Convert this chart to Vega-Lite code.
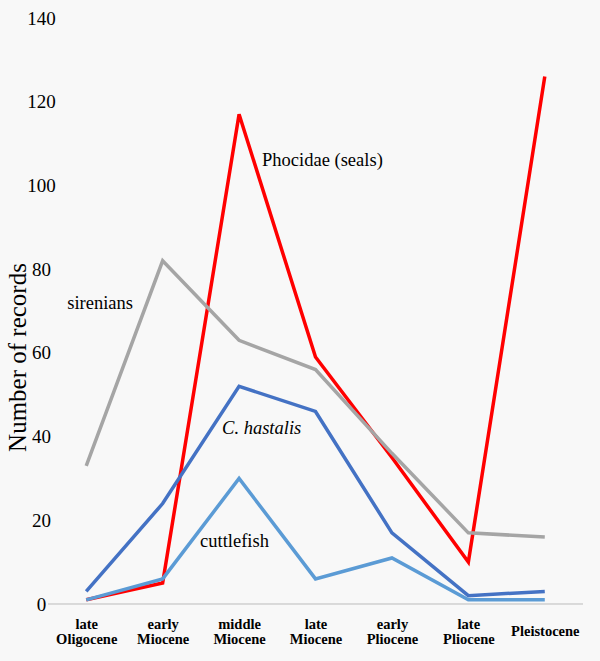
{
  "$schema": "https://vega.github.io/schema/vega-lite/v6.json",
  "width": 535,
  "height": 586,
  "autosize": {"type": "none"},
  "padding": {"left": 48, "top": 18, "right": 17, "bottom": 57},
  "background": "#f8f8f8",
  "config": {
    "view": {"stroke": null},
    "font": "'Liberation Serif', 'Times New Roman', serif"
  },
  "data": {
    "values": [
      {"period": "late Oligocene", "series": "Phocidae", "n": 1},
      {"period": "early Miocene", "series": "Phocidae", "n": 5},
      {"period": "middle Miocene", "series": "Phocidae", "n": 117},
      {"period": "late Miocene", "series": "Phocidae", "n": 59},
      {"period": "early Pliocene", "series": "Phocidae", "n": 35},
      {"period": "late Pliocene", "series": "Phocidae", "n": 10},
      {"period": "Pleistocene", "series": "Phocidae", "n": 126},
      {"period": "late Oligocene", "series": "C. hastalis", "n": 3},
      {"period": "early Miocene", "series": "C. hastalis", "n": 24},
      {"period": "middle Miocene", "series": "C. hastalis", "n": 52},
      {"period": "late Miocene", "series": "C. hastalis", "n": 46},
      {"period": "early Pliocene", "series": "C. hastalis", "n": 17},
      {"period": "late Pliocene", "series": "C. hastalis", "n": 2},
      {"period": "Pleistocene", "series": "C. hastalis", "n": 3},
      {"period": "late Oligocene", "series": "sirenians", "n": 33},
      {"period": "early Miocene", "series": "sirenians", "n": 82},
      {"period": "middle Miocene", "series": "sirenians", "n": 63},
      {"period": "late Miocene", "series": "sirenians", "n": 56},
      {"period": "early Pliocene", "series": "sirenians", "n": 36},
      {"period": "late Pliocene", "series": "sirenians", "n": 17},
      {"period": "Pleistocene", "series": "sirenians", "n": 16},
      {"period": "late Oligocene", "series": "cuttlefish", "n": 1},
      {"period": "early Miocene", "series": "cuttlefish", "n": 6},
      {"period": "middle Miocene", "series": "cuttlefish", "n": 30},
      {"period": "late Miocene", "series": "cuttlefish", "n": 6},
      {"period": "early Pliocene", "series": "cuttlefish", "n": 11},
      {"period": "late Pliocene", "series": "cuttlefish", "n": 1},
      {"period": "Pleistocene", "series": "cuttlefish", "n": 1}
    ]
  },
  "encoding": {
    "x": {
      "field": "period",
      "type": "ordinal",
      "sort": ["late Oligocene", "early Miocene", "middle Miocene", "late Miocene", "early Pliocene", "late Pliocene", "Pleistocene"],
      "scale": {"type": "point", "padding": 0.5},
      "axis": {
        "title": null,
        "labelAngle": 0,
        "labelExpr": "split(datum.label, ' ')",
        "labelFont": "'Liberation Serif', 'Times New Roman', serif",
        "labelFontWeight": "bold",
        "labelFontSize": 14.5,
        "labelLineHeight": 15,
        "labelBaseline": "middle",
        "labelPadding": {"condition": {"test": "datum.value === 'Pleistocene'", "value": 27}, "value": 20},
        "labelColor": "#000000",
        "domain": false,
        "ticks": false,
        "tickSize": 0,
        "grid": false
      }
    },
    "y": {
      "field": "n",
      "type": "quantitative",
      "scale": {"domain": [0, 140], "nice": false},
      "axis": {
        "values": [0, 20, 40, 60, 80, 100, 120, 140],
        "title": "Number of records",
        "titleFont": "'Liberation Serif', 'Times New Roman', serif",
        "titleFontSize": 25,
        "titleFontWeight": "normal",
        "titleColor": "#000000",
        "titleAngle": -90,
        "titleAlign": "center",
        "titleBaseline": "middle",
        "titleX": -31,
        "titleY": 339,
        "labelFont": "'Liberation Serif', 'Times New Roman', serif",
        "labelFontSize": 19,
        "labelColor": "#000000",
        "labelAlign": "center",
        "labelPadding": 7,
        "domain": false,
        "ticks": false,
        "tickSize": 0,
        "grid": false
      }
    }
  },
  "layer": [
    {
      "mark": {"type": "rule", "color": "#d9d9d9", "strokeWidth": 1},
      "encoding": {"y": {"datum": 0}, "x": null}
    },
    {
      "mark": {"type": "line", "strokeWidth": 3.5, "strokeJoin": "miter"},
      "encoding": {
        "color": {
          "field": "series",
          "type": "nominal",
          "scale": {
            "domain": ["Phocidae", "C. hastalis", "sirenians", "cuttlefish"],
            "range": ["#ff0000", "#4472c4", "#a5a5a5", "#5b9bd5"]
          },
          "legend": null
        }
      }
    },
    {
      "data": {"values": [{"period": "middle Miocene", "n": 106, "label": "Phocidae (seals)"}]},
      "mark": {"type": "text", "align": "left", "baseline": "middle", "dx": 23, "fontSize": 18.5, "font": "'Liberation Serif', 'Times New Roman', serif", "color": "#000000"},
      "encoding": {"text": {"field": "label"}}
    },
    {
      "data": {"values": [{"period": "late Oligocene", "n": 72, "label": "sirenians"}]},
      "mark": {"type": "text", "align": "left", "baseline": "middle", "dx": -19, "fontSize": 18.5, "font": "'Liberation Serif', 'Times New Roman', serif", "color": "#000000"},
      "encoding": {"text": {"field": "label"}}
    },
    {
      "data": {"values": [{"period": "middle Miocene", "n": 42, "label": "C. hastalis"}]},
      "mark": {"type": "text", "align": "left", "baseline": "middle", "dx": -17, "fontSize": 18.5, "fontStyle": "italic", "font": "'Liberation Serif', 'Times New Roman', serif", "color": "#000000"},
      "encoding": {"text": {"field": "label"}}
    },
    {
      "data": {"values": [{"period": "middle Miocene", "n": 15, "label": "cuttlefish"}]},
      "mark": {"type": "text", "align": "left", "baseline": "middle", "dx": -39, "fontSize": 18.5, "font": "'Liberation Serif', 'Times New Roman', serif", "color": "#000000"},
      "encoding": {"text": {"field": "label"}}
    }
  ]
}
